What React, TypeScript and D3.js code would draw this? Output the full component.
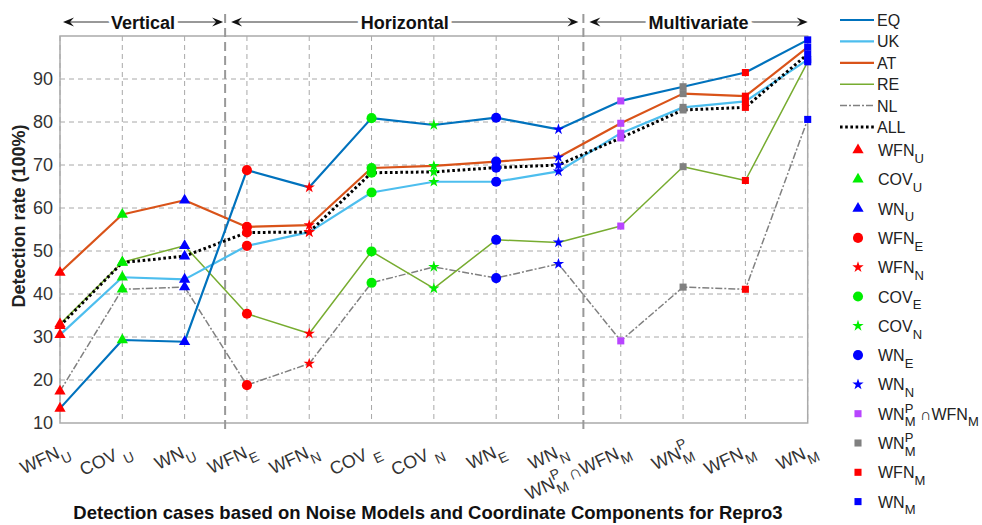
import React from "react";
import * as d3 from "d3";

// ---------- data ----------
const categories = [
  "WFN_{U}", "COV _{U}", "WN_{U}", "WFN_{E}", "WFN_{N}", "COV _{E}", "COV _{N}",
  "WN_{E}", "WN_{N}", "WN^{P}_{M} ∩WFN_{M}", "WN^{P}_{M}", "WFN_{M}", "WN_{M}",
];
const markerLegend = [
  "WFN_{U}", "COV_{U}", "WN_{U}", "WFN_{E}", "WFN_{N}", "COV_{E}", "COV_{N}",
  "WN_{E}", "WN_{N}", "WN^{P}_{M} ∩WFN_{M}", "WN^{P}_{M}", "WFN_{M}", "WN_{M}",
];
const markerShapes = ["tri", "tri", "tri", "circle", "star", "circle", "star", "circle", "star", "square", "square", "square", "square"];
const markerColors = ["#ff0000", "#00ee00", "#0000ff", "#ff0000", "#ff0000", "#00ee00", "#00ee00", "#0000ff", "#0000ff", "#b845ff", "#808080", "#ff0000", "#0000ff"];

const seriesNames = ["EQ", "UK", "AT", "RE", "NL", "ALL"];
const EQ = [13.4, 29.3, 28.9, 68.8, 64.8, 80.9, 79.3, 81.0, 78.3, 84.9, 88.2, 91.5, 99.1];
const UK = [30.5, 43.9, 43.4, 51.2, 54.4, 63.6, 66.1, 66.1, 68.5, 77.4, 83.4, 84.8, 94.5];
const AT = [45.0, 58.5, 61.8, 55.6, 56.0, 69.3, 69.8, 70.8, 71.8, 79.7, 86.6, 86.0, 97.4];
const RE = [33.0, 47.4, 51.2, 35.4, 30.8, 49.9, 41.3, 52.6, 52.0, 55.8, 69.6, 66.4, 94.0];
const NL = [17.4, 41.1, 41.6, 18.8, 23.8, 42.6, 46.3, 43.7, 47.0, 29.1, 41.6, 41.1, 80.6];
const ALL = [32.6, 47.3, 48.8, 54.3, 54.4, 68.2, 68.4, 69.4, 70.0, 76.3, 82.8, 83.4, 95.8];
const seriesValues = [EQ, UK, AT, RE, NL, ALL];

const yTicks = [10, 20, 30, 40, 50, 60, 70, 80, 90];
const groupNames = ["Vertical", "Horizontal", "Multivariate"];
const xTitle = "Detection cases based on Noise Models and Coordinate Components for Repro3";
const yTitle = "Detection rate (100%)";

// ---------- styles ----------
const seriesStyle: Record<string, { color: string; width: number; dash?: string }> = {
  EQ: { color: "#0072BD", width: 2.2 },
  UK: { color: "#4DBEEE", width: 2.2 },
  AT: { color: "#D95319", width: 2.2 },
  RE: { color: "#77AC30", width: 1.5 },
  NL: { color: "#808080", width: 1.5, dash: "7,2,2,2" },
  ALL: { color: "#000000", width: 3, dash: "2.6,2.6" },
};
const drawOrder = ["NL", "RE", "UK", "ALL", "AT", "EQ"];

const FONT = "'Liberation Sans', Arial, Helvetica, sans-serif";

// ---------- rich text ----------
type Seg = { t: string; k: "n" | "sub" | "sup" };
function parseRich(s: string): Seg[] {
  const segs: Seg[] = [];
  let i = 0;
  let buf = "";
  while (i < s.length) {
    const c = s[i];
    if ((c === "^" || c === "_") && s[i + 1] === "{") {
      if (buf) { segs.push({ t: buf, k: "n" }); buf = ""; }
      const j = s.indexOf("}", i);
      segs.push({ t: s.slice(i + 2, j), k: c === "^" ? "sup" : "sub" });
      i = j + 1;
    } else { buf += c; i++; }
  }
  if (buf) segs.push({ t: buf, k: "n" });
  return segs;
}
let ctx: CanvasRenderingContext2D | null = null;
function measure(t: string, size: number) {
  if (!ctx) ctx = document.createElement("canvas").getContext("2d");
  if (!ctx) return t.length * size * 0.6;
  ctx.font = `${size}px ${FONT}`;
  return ctx.measureText(t).width;
}
function richSpans(s: string, fs: number, ss: number) {
  const segs = parseRich(s);
  let cur = 0;
  const out: React.ReactNode[] = [];
  segs.forEach((seg, idx) => {
    const target = seg.k === "sub" ? fs * 0.42 : seg.k === "sup" ? -fs * 0.45 : 0;
    let dx = 0;
    const prev = segs[idx - 1];
    const prev2 = segs[idx - 2];
    if (seg.k === "sub" && prev && prev.k === "sup") dx = -measure(prev.t, ss);
    if (seg.k === "n" && prev && prev.k === "sub" && prev2 && prev2.k === "sup") {
      dx = Math.max(0, measure(prev2.t, ss) - measure(prev.t, ss));
    }
    out.push(
      <tspan key={idx} dx={dx || undefined} dy={target - cur || undefined} fontSize={seg.k === "n" ? fs : ss}>
        {seg.t}
      </tspan>
    );
    cur = target;
  });
  return out;
}

function markerPath(shape: string) {
  const t = shape === "tri" ? d3.symbolTriangle : shape === "circle" ? d3.symbolCircle : shape === "star" ? d3.symbolStar : d3.symbolSquare;
  const size = shape === "tri" ? 55 : shape === "circle" ? 80 : shape === "star" ? 40 : 50;
  return d3.symbol().type(t).size(size)() as string;
}

export default function App() {
  const W = 982, H = 525;
  const left = 60, right = 807.7, top = 36, bottom = 423;
  const x = d3.scalePoint<string>().domain(categories).range([left, right]).padding(0);
  const y = d3.scaleLinear().domain([10, 100]).range([bottom, top]);
  const step = x.step();
  const xi = (i: number) => x(categories[i]) as number;

  const sep1 = xi(2) + step * 0.65;
  const sep2 = xi(8) + step * 0.4;
  const groups = [
    { name: groupNames[0], x0: xi(0) + 3, x1: sep1 - 2 },
    { name: groupNames[1], x0: sep1 + 6, x1: sep2 - 5 },
    { name: groupNames[2], x0: sep2 + 6, x1: right },
  ];

  const line = d3.line<number>().x((_, i) => xi(i)).y((d) => y(d));
  const arrowY = 22;

  return (
    <svg width={W} height={H} style={{ position: "absolute", left: 0, top: 0, background: "#fff" }} fontFamily={FONT}>
      {/* grid */}
      {yTicks.filter((t) => t > 10).map((t) => (
        <line key={"gy" + t} x1={left} x2={right} y1={y(t)} y2={y(t)} stroke="#a8a8a8" strokeWidth={1} strokeDasharray="5,4" />
      ))}
      {categories.map((c, i) => (
        <line key={"gx" + i} x1={xi(i)} x2={xi(i)} y1={top} y2={bottom} stroke="#a8a8a8" strokeWidth={1} strokeDasharray="5,4" />
      ))}
      {/* box */}
      <rect x={left} y={top} width={right - left} height={bottom - top} fill="none" stroke="#aaa" strokeWidth={1.5} />
      {/* separators */}
      {[sep1, sep2].map((s, i) => (
        <line key={"sep" + i} x1={s} x2={s} y1={14} y2={433} stroke="#999" strokeWidth={2} strokeDasharray="9,5" />
      ))}
      {/* y tick labels */}
      {yTicks.map((t) => (
        <text key={"yt" + t} x={53} y={y(t) + 6} textAnchor="end" fontSize={18} fill="#333">{t}</text>
      ))}
      {/* x tick labels */}
      {categories.map((c, i) => (
        <text key={"xt" + i} transform={`translate(${xi(i) + 10},${453}) rotate(-25)`} textAnchor="end" fill="#333">
          {richSpans(c, 18, 14)}
        </text>
      ))}
      {/* titles */}
      <text transform={`translate(25,216) rotate(-90)`} textAnchor="middle" fontSize={18} fontWeight="bold" fill="#222">{yTitle}</text>
      <text x={428} y={519} textAnchor="middle" fontSize={18.5} fontWeight="bold" fill="#111">{xTitle}</text>
      {/* group annotations */}
      {groups.map((g) => (
        <g key={g.name}>
          <line x1={g.x0 + 4} x2={g.x1 - 4} y1={arrowY} y2={arrowY} stroke="#333" strokeWidth={1} />
          <path d={`M${g.x0},${arrowY} L${g.x0 + 11},${arrowY - 4.5} L${g.x0 + 7},${arrowY} L${g.x0 + 11},${arrowY + 4.5} Z`} fill="#111" />
          <path d={`M${g.x1},${arrowY} L${g.x1 - 11},${arrowY - 4.5} L${g.x1 - 7},${arrowY} L${g.x1 - 11},${arrowY + 4.5} Z`} fill="#111" />
          <text x={(g.x0 + g.x1) / 2} y={arrowY + 7} textAnchor="middle" fontSize={18} fontWeight="bold" fill="#111"
            stroke="#fff" strokeWidth={8} style={{ paintOrder: "stroke" } as any}>{g.name}</text>
        </g>
      ))}
      {/* series lines */}
      {drawOrder.map((name) => {
        const st = seriesStyle[name];
        const vals = seriesValues[seriesNames.indexOf(name)];
        return (
          <path key={"l" + name} d={line(vals) as string} fill="none" stroke={st.color} strokeWidth={st.width}
            strokeDasharray={st.dash} strokeLinejoin="round" />
        );
      })}
      {/* markers */}
      {drawOrder.map((name) => {
        const vals = seriesValues[seriesNames.indexOf(name)];
        return vals.map((v, i) => (
          <path key={"m" + name + i} d={markerPath(markerShapes[i])} transform={`translate(${xi(i)},${y(v)})`} fill={markerColors[i]} />
        ));
      })}
      {/* legend */}
      {seriesNames.map((n, i) => {
        const st = seriesStyle[n];
        const ly = 20 + i * 21.4;
        return (
          <g key={"lg" + n}>
            <line x1={840} x2={874} y1={ly} y2={ly} stroke={st.color} strokeWidth={st.width} strokeDasharray={st.dash} />
            <text x={877} y={ly + 6} fontSize={16} fill="#222">{n}</text>
          </g>
        );
      })}
      {markerLegend.map((lab, i) => {
        const ly = 150 + i * 29.3;
        return (
          <g key={"lm" + i}>
            <path d={markerPath(markerShapes[i])} transform={`translate(858,${ly})`} fill={markerColors[i]} />
            <text x={878} y={ly + 6} fill="#222">{richSpans(lab, 16, 13)}</text>
          </g>
        );
      })}
    </svg>
  );
}
